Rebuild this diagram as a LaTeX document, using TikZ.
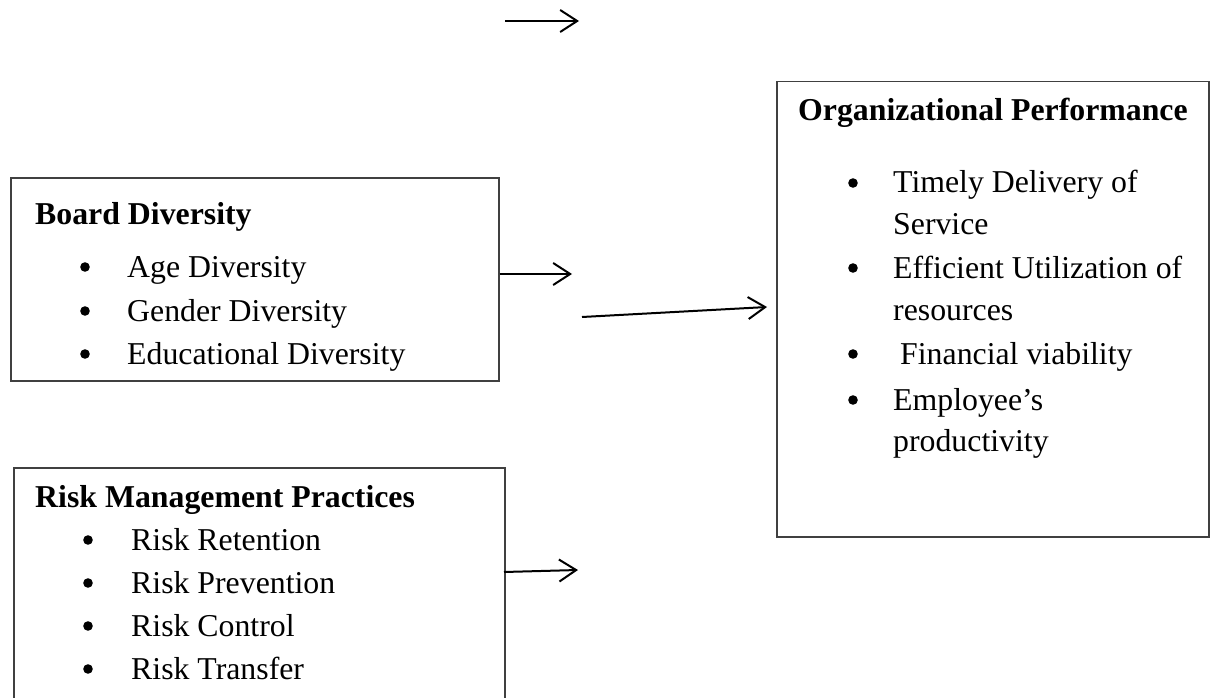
\documentclass[tikz,border=0pt]{standalone}
\usepackage{fontspec}
\setmainfont{Liberation Serif}
\usetikzlibrary{arrows.meta}
\begin{document}
\begin{tikzpicture}[x=1pt,y=-1pt,
  box/.style={draw=black!75,line width=1.5pt,rectangle,inner sep=0pt,anchor=north west},
  txt/.style={anchor=base west,inner sep=0pt,font=\fontsize{31.8}{38}\selectfont},
  ttl/.style={txt,font=\fontsize{31.8}{38}\selectfont\bfseries},
  bul/.style={fill=black},
  arr/.style={line width=2pt,-{Straight Barb[length=17pt,width=22pt,line width=2pt]}}]
\useasboundingbox (0,0) rectangle (1213,698);
\clip (0,0) rectangle (1213,698);

% boxes
\node[box,minimum width=488pt,minimum height=203pt] (bd) at (10,177) {};
\node[box,minimum width=491pt,minimum height=260pt] (rm) at (13,467) {};
\node[box,minimum width=432pt,minimum height=455pt] (op) at (776,81) {};

% Board Diversity
\node[ttl] (bdt) at (35,224) {Board Diversity};
\foreach \y/\t [count=\i] in {277/Age Diversity,321/Gender Diversity,364/Educational Diversity}{
  \fill[bul] (85,\y-10) circle (4.8pt);
  \node[txt] (bd\i) at (127,\y) {\t};
}

% Risk Management Practices
\node[ttl] (rmt) at (35,507) {Risk Management Practices};
\foreach \y/\t [count=\i] in {550/Risk Retention,593/Risk Prevention,636/Risk Control,679/Risk Transfer}{
  \fill[bul] (88,\y-10) circle (4.8pt);
  \node[txt] (rm\i) at (131,\y) {\t};
}

% Organizational Performance
\node[ttl] (opt) at (798,121) {Organizational Performance};
\foreach \y in {193,278,364,410}{
  \fill[bul] (853,\y-10) circle (4.8pt);
}
\node[txt] (op1) at (893,193) {Timely Delivery of};
\node[txt] (op1b) at (893,234) {Service};
\node[txt] (op2) at (893,278) {Efficient Utilization of};
\node[txt] (op2b) at (893,320) {resources};
\node[txt] (op3) at (900,364) {Financial viability};
\node[txt] (op4) at (893,410) {Employee’s};
\node[txt] (op4b) at (893,451) {productivity};

% connectors
\coordinate (t1) at (505,21);
\coordinate (t2) at (579,21);
\draw[arr] (t1) -- (t2);

\coordinate (a1) at (572,274);
\draw[arr] (a1 -| bd.east) -- (a1);

\coordinate (a2s) at (582,317);
\coordinate (a2e) at (767,307);
\draw[arr] (a2s) -- (a2e);

\coordinate (a3s) at (504,572);
\coordinate (a3e) at (578,570);
\draw[arr] (a3s) -- (a3e);
\end{tikzpicture}
\end{document}
